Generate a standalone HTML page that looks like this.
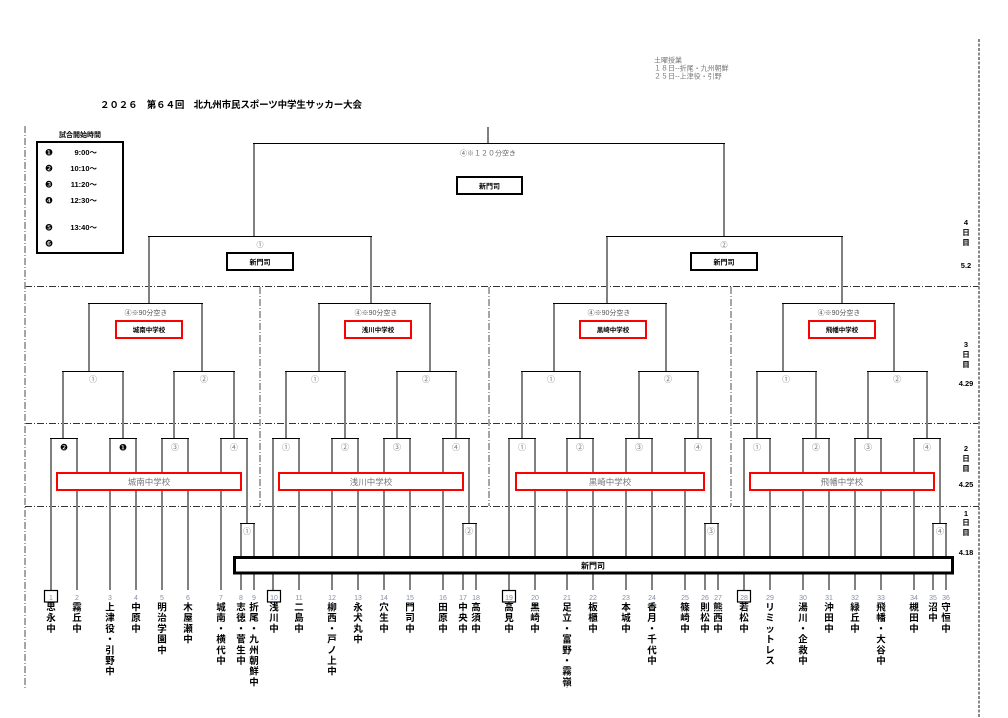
<!DOCTYPE html>
<html><head><meta charset="utf-8"><style>
html,body{margin:0;padding:0;background:#fff;}
svg{display:block;font-family:"Liberation Sans","Noto Sans CJK JP",sans-serif;}
</style></head><body>
<svg width="1008" height="718" viewBox="0 0 1008 718" xmlns="http://www.w3.org/2000/svg">
<defs><clipPath id="cp"><rect x="0" y="0" width="1008" height="688"/></clipPath></defs>
<rect width="1008" height="718" fill="#fff"/>

<!-- separators -->
<g stroke="#333" stroke-width="1" stroke-dasharray="7 2 1 2" fill="none">
<line x1="25" y1="286.5" x2="979" y2="286.5"/>
<line x1="25" y1="423.5" x2="979" y2="423.5"/>
<line x1="25" y1="506.5" x2="979" y2="506.5"/>
</g>
<g stroke="#888" stroke-width="1.5" stroke-dasharray="7 2 1 2" fill="none">
<line x1="25" y1="126" x2="25" y2="690"/>
<line x1="260" y1="287" x2="260" y2="506"/>
<line x1="489" y1="287" x2="489" y2="506"/>
<line x1="731" y1="287" x2="731" y2="506"/>
</g>
<line x1="979" y1="39" x2="979" y2="718" stroke="#888" stroke-width="2" stroke-dasharray="3 1.5"/>

<!-- title -->
<text x="100" y="108" font-size="9.5" font-weight="bold" textLength="262" lengthAdjust="spacing">２０２６　第６４回　北九州市民スポーツ中学生サッカー大会</text>

<!-- note -->
<g font-size="7" fill="#777">
<text x="654" y="62.5">土曜授業</text>
<text x="654" y="70.5">１８日‐‐折尾・九州朝鮮</text>
<text x="654" y="78.5">２５日‐‐上津役・引野</text>
</g>

<!-- time box -->
<text x="80" y="137" font-size="7" font-weight="bold" text-anchor="middle">試合開始時間</text>
<rect x="37" y="142" width="86" height="111" fill="none" stroke="#000" stroke-width="2"/>
<g font-size="9" text-anchor="middle" font-family="'DejaVu Sans',sans-serif">
<text x="49" y="155.5">❶</text><text x="49" y="171.5">❷</text><text x="49" y="187.5">❸</text>
<text x="49" y="203.5">❹</text><text x="49" y="230.5">❺</text><text x="49" y="246.5">❻</text>
</g>
<g font-size="7.5" font-weight="bold" text-anchor="end">
<text x="97" y="155">9:00～</text><text x="97" y="171">10:10～</text><text x="97" y="187">11:20～</text>
<text x="97" y="203">12:30～</text><text x="97" y="230">13:40～</text>
</g>

<!-- vertical gray lines -->
<g stroke="#808080" stroke-width="2" fill="none">
<path d="M488 127V143 M254 143V236 M724 143V236
M149 236V303 M371 236V303 M607 236V303 M842 236V303
M89 303V371 M202 303V371 M319 303V371 M430 303V371 M554 303V371 M666 303V371 M783 303V371 M894 303V371
M63 371V438 M123 371V438 M174 371V438 M234 371V438
M286 371V438 M345 371V438 M397 371V438 M456 371V438
M522 371V438 M580 371V438 M639 371V438 M698 371V438
M757 371V438 M816 371V438 M868 371V438 M927 371V438
M51 438V590 M77 438V590 M110 438V590 M136 438V590 M162 438V590 M188 438V590 M221 438V590 M247 438V523 M241 523V590 M254 523V590
M273 438V590 M299 438V590 M332 438V590 M358 438V590 M384 438V590 M410 438V590 M443 438V590 M469 438V523 M463 523V590 M476 523V590
M509 438V590 M535 438V590 M567 438V590 M593 438V590 M626 438V590 M652 438V590 M685 438V590 M711 438V523 M705 523V590 M718 523V590
M744 438V590 M770 438V590 M803 438V590 M829 438V590 M855 438V590 M881 438V590 M914 438V590 M940 438V523 M933 523V590 M946 523V590"/>
</g>

<!-- horizontal black lines -->
<g stroke="#000" stroke-width="1" fill="none">
<path d="M253 143.5H725 M148 236.5H372 M606 236.5H843
M88 303.5H203 M318 303.5H431 M553 303.5H667 M782 303.5H895
M62 371.5H124 M173 371.5H235 M285 371.5H346 M396 371.5H457 M521 371.5H581 M638 371.5H699 M756 371.5H817 M867 371.5H928
M50 438.5H78 M109 438.5H137 M161 438.5H189 M220 438.5H248
M272 438.5H300 M331 438.5H359 M383 438.5H411 M442 438.5H470
M508 438.5H536 M566 438.5H594 M625 438.5H653 M684 438.5H712
M743 438.5H771 M802 438.5H830 M854 438.5H882 M913 438.5H941
M240 523.5H255 M462 523.5H477 M704 523.5H719 M932 523.5H947"/>
</g>

<!-- final / semi boxes -->
<g fill="#fff" stroke="#000" stroke-width="2">
<rect x="457" y="177" width="65" height="17"/>
<rect x="227" y="253" width="66" height="17"/>
<rect x="691" y="253" width="66" height="17"/>
</g>
<g font-size="7" font-weight="bold" text-anchor="middle">
<text x="489.5" y="188.5">新門司</text>
<text x="260" y="264.5">新門司</text>
<text x="724" y="264.5">新門司</text>
</g>
<g font-size="7" fill="#666" text-anchor="middle">
<text x="488" y="155.5">④※１２０分空き</text>
<text x="260" y="247">①</text>
<text x="724" y="247">②</text>
</g>

<!-- day3 -->
<g font-size="7" fill="#555" text-anchor="middle">
<text x="146" y="315">④※90分空き</text>
<text x="376" y="315">④※90分空き</text>
<text x="609" y="315">④※90分空き</text>
<text x="839" y="315">④※90分空き</text>
</g>
<g fill="#fff" stroke="#f00" stroke-width="2">
<rect x="116" y="321" width="66" height="17"/>
<rect x="345" y="321" width="66" height="17"/>
<rect x="580" y="321" width="66" height="17"/>
<rect x="809" y="321" width="66" height="17"/>
</g>
<g font-size="6.5" font-weight="bold" text-anchor="middle">
<text x="149" y="332">城南中学校</text>
<text x="378" y="332">浅川中学校</text>
<text x="613" y="332">黒崎中学校</text>
<text x="842" y="332">飛幡中学校</text>
</g>
<g font-size="8" fill="#777" text-anchor="middle">
<text x="93" y="382">①</text><text x="204" y="382">②</text>
<text x="315" y="382">①</text><text x="426" y="382">②</text>
<text x="551" y="382">①</text><text x="668" y="382">②</text>
<text x="786" y="382">①</text><text x="897" y="382">②</text>
</g>

<!-- day2 -->
<g font-size="8" fill="#777" text-anchor="middle">
<text x="175" y="450">③</text><text x="234" y="450">④</text>
<text x="286" y="450">①</text><text x="345" y="450">②</text><text x="397" y="450">③</text><text x="456" y="450">④</text>
<text x="522" y="450">①</text><text x="580" y="450">②</text><text x="639" y="450">③</text><text x="698" y="450">④</text>
<text x="757" y="450">①</text><text x="816" y="450">②</text><text x="868" y="450">③</text><text x="927" y="450">④</text>
<text x="247" y="534">①</text><text x="469" y="534">②</text><text x="711" y="534">③</text><text x="940" y="534">④</text>
</g>
<g font-size="9" text-anchor="middle" font-family="'DejaVu Sans',sans-serif">
<text x="64" y="450.5">❷</text><text x="123" y="450.5">❶</text>
</g>
<g fill="#fff" stroke="#f00" stroke-width="2">
<rect x="57" y="473" width="184" height="17"/>
<rect x="279" y="473" width="184" height="17"/>
<rect x="516" y="473" width="188" height="17"/>
<rect x="750" y="473" width="184" height="17"/>
</g>
<g font-size="8.5" fill="#777" text-anchor="middle">
<text x="149" y="485">城南中学校</text>
<text x="371" y="485">浅川中学校</text>
<text x="610" y="485">黒崎中学校</text>
<text x="842" y="485">飛幡中学校</text>
</g>

<!-- day1 bar -->
<rect x="234.5" y="557.5" width="718" height="15.5" fill="#fff" stroke="#000" stroke-width="3"/>
<text x="593" y="568.5" font-size="8" font-weight="bold" text-anchor="middle">新門司</text>

<!-- right day labels -->
<g font-size="7.5" font-weight="bold" text-anchor="middle">
<text x="966" y="225">4</text><text x="966" y="235">日</text><text x="966" y="245">目</text><text x="966" y="268">5.2</text>
<text x="966" y="347">3</text><text x="966" y="357">日</text><text x="966" y="367">目</text><text x="966" y="386">4.29</text>
<text x="966" y="451">2</text><text x="966" y="461">日</text><text x="966" y="471">目</text><text x="966" y="487">4.25</text>
<text x="966" y="516">1</text><text x="966" y="525">日</text><text x="966" y="535">目</text><text x="966" y="555">4.18</text>
</g>

<!-- number boxes -->
<g fill="#fff" stroke="#000" stroke-width="1.2">
<rect x="44.5" y="590.5" width="13" height="11.5"/>
<rect x="267.5" y="590.5" width="13" height="11.5"/>
<rect x="502.5" y="590.5" width="13" height="11.5"/>
<rect x="737.5" y="590.5" width="13" height="11.5"/>
</g>
<g font-size="7" fill="#8090b0" text-anchor="middle">
<text x="51" y="600">1</text><text x="77" y="600">2</text><text x="110" y="600">3</text><text x="136" y="600">4</text>
<text x="162" y="600">5</text><text x="188" y="600">6</text><text x="221" y="600">7</text><text x="241" y="600">8</text>
<text x="254" y="600">9</text><text x="274" y="600">10</text><text x="299" y="600">11</text><text x="332" y="600">12</text>
<text x="358" y="600">13</text><text x="384" y="600">14</text><text x="410" y="600">15</text><text x="443" y="600">16</text>
<text x="463" y="600">17</text><text x="476" y="600">18</text><text x="509" y="600">19</text><text x="535" y="600">20</text>
<text x="567" y="600">21</text><text x="593" y="600">22</text><text x="626" y="600">23</text><text x="652" y="600">24</text>
<text x="685" y="600">25</text><text x="705" y="600">26</text><text x="718" y="600">27</text><text x="744" y="600">28</text>
<text x="770" y="600">29</text><text x="803" y="600">30</text><text x="829" y="600">31</text><text x="855" y="600">32</text>
<text x="881" y="600">33</text><text x="914" y="600">34</text><text x="933" y="600">35</text><text x="946" y="600">36</text>
</g>

<!-- team names (vertical) -->
<g font-size="9.5" font-weight="bold" text-anchor="middle" clip-path="url(#cp)">
<text x="51 51 51" y="610.5 621.2 631.9">思永中</text>
<text x="77 77 77" y="610.5 621.2 631.9">霧丘中</text>
<text x="110 110 110 110 110 110 110" y="610.5 621.2 631.9 642.6 653.3 664 674.7">上津役・引野中</text>
<text x="136 136 136" y="610.5 621.2 631.9">中原中</text>
<text x="162 162 162 162 162" y="610.5 621.2 631.9 642.6 653.3">明治学園中</text>
<text x="188 188 188 188" y="610.5 621.2 631.9 642.6">木屋瀬中</text>
<text x="221 221 221 221 221 221" y="610.5 621.2 631.9 642.6 653.3 664">城南・横代中</text>
<text x="241 241 241 241 241 241" y="610.5 621.2 631.9 642.6 653.3 664">志徳・菅生中</text>
<text x="254 254 254 254 254 254 254 254" y="610.5 621.2 631.9 642.6 653.3 664 674.7 685.4">折尾・九州朝鮮中</text>
<text x="274 274 274" y="610.5 621.2 631.9">浅川中</text>
<text x="299 299 299" y="610.5 621.2 631.9">二島中</text>
<text x="332 332 332 332 332 332 332" y="610.5 621.2 631.9 642.6 653.3 664 674.7">柳西・戸ノ上中</text>
<text x="358 358 358 358" y="610.5 621.2 631.9 642.6">永犬丸中</text>
<text x="384 384 384" y="610.5 621.2 631.9">穴生中</text>
<text x="410 410 410" y="610.5 621.2 631.9">門司中</text>
<text x="443 443 443" y="610.5 621.2 631.9">田原中</text>
<text x="463 463 463" y="610.5 621.2 631.9">中央中</text>
<text x="476 476 476" y="610.5 621.2 631.9">高須中</text>
<text x="509 509 509" y="610.5 621.2 631.9">高見中</text>
<text x="535 535 535" y="610.5 621.2 631.9">黒崎中</text>
<text x="567 567 567 567 567 567 567 567 567" y="610.5 621.2 631.9 642.6 653.3 664 674.7 685.4 696.1">足立・富野・霧嶺中</text>
<text x="593 593 593" y="610.5 621.2 631.9">板櫃中</text>
<text x="626 626 626" y="610.5 621.2 631.9">本城中</text>
<text x="652 652 652 652 652 652" y="610.5 621.2 631.9 642.6 653.3 664">香月・千代中</text>
<text x="685 685 685" y="610.5 621.2 631.9">篠崎中</text>
<text x="705 705 705" y="610.5 621.2 631.9">則松中</text>
<text x="718 718 718" y="610.5 621.2 631.9">熊西中</text>
<text x="744 744 744" y="610.5 621.2 631.9">若松中</text>
<text x="770 770 770 770 770 770" y="610.5 621.2 631.9 642.6 653.3 664">リミットレス</text>
<text x="803 803 803 803 803 803" y="610.5 621.2 631.9 642.6 653.3 664">湯川・企救中</text>
<text x="829 829 829" y="610.5 621.2 631.9">沖田中</text>
<text x="855 855 855" y="610.5 621.2 631.9">緑丘中</text>
<text x="881 881 881 881 881 881" y="610.5 621.2 631.9 642.6 653.3 664">飛幡・大谷中</text>
<text x="914 914 914" y="610.5 621.2 631.9">槻田中</text>
<text x="933 933" y="610.5 621.2">沼中</text>
<text x="946 946 946" y="610.5 621.2 631.9">守恒中</text>
</g>
</svg>
</body></html>
